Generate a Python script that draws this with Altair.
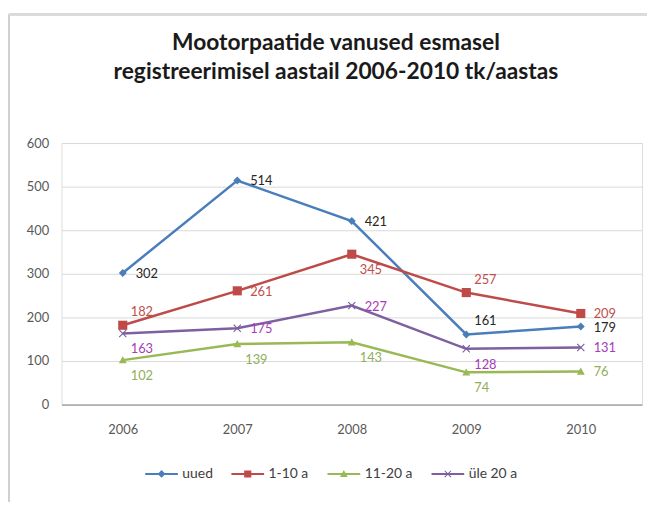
import altair as alt
import pandas as pd
import re

years = ["2006", "2007", "2008", "2009", "2010"]
series = ["uued", "1-10 a", "11-20 a", "üle 20 a"]
uued = [302, 514, 421, 161, 179]
a1_10 = [182, 261, 345, 257, 209]
a11_20 = [102, 139, 143, 74, 76]
ule20 = [163, 175, 227, 128, 131]
# label placement: r = right, a = above-right, b = below-right
place_uued = ["r", "r", "r", "a", "r"]
place_1_10 = ["a", "r", "b", "a", "r"]
place_11_20 = ["b", "b", "b", "b", "r"]
place_ule20 = ["b", "r", "r", "b", "r"]

line_colors = ["#4A7EBB", "#BE4B48", "#98B954", "#7D60A0"]
label_colors = ["#262626", "#C0504D", "#8FAF5A", "#A83CB8"]

FONT = "Lato"

values = [uued, a1_10, a11_20, ule20]
places = [place_uued, place_1_10, place_11_20, place_ule20]
rows = []
for s, vals, pl in zip(series, values, places):
    for y, v, p in zip(years, vals, pl):
        rows.append({"year": y, "series": s, "value": v, "place": p,
                     "series_pt": s, "series_lbl": s, "lg": s})
df = pd.DataFrame(rows)

diamond = "M0,-1L1,0L0,1L-1,0Z"
square = "M-1,-1L1,-1L1,1L-1,1Z"
triangle = "M0,-1L1,0.8L-1,0.8Z"
xcross = ("M-1,-0.8L-0.8,-1L0,-0.2L0.8,-1L1,-0.8L0.2,0L1,0.8L0.8,1"
          "L0,0.2L-0.8,1L-1,0.8L-0.2,0Z")
marker_paths = [diamond, "M-1.15,-1.15L1.15,-1.15L1.15,1.15L-1.15,1.15Z", triangle, xcross]

bar = "M-5.5,-0.35L5.5,-0.35L5.5,0.35L-5.5,0.35Z"
def lg_path(m, k):
    nums = re.sub(r"(-?\d+\.?\d*)", lambda mm: str(round(float(mm.group(1)) * k, 3)), m)
    return bar + nums
legend_paths = [lg_path(diamond, 1.3), lg_path(square, 1.2),
                lg_path(triangle, 1.3), lg_path(xcross, 1.2)]

x_enc = alt.X("year:O", scale=alt.Scale(type="point", padding=0.535),
              axis=alt.Axis(title=None, labelAngle=0, ticks=False, grid=False,
                            domainColor="#8C8C8C", domainWidth=1,
                            labelPadding=19, labelColor="#595959",
                            labelFontSize=13, labelFont=FONT))
y_enc = alt.Y("value:Q", scale=alt.Scale(domain=[0, 600]),
              axis=alt.Axis(title=None, values=[0, 100, 200, 300, 400, 500, 600],
                            ticks=False, domain=False, gridColor="#D9D9D9",
                            labelPadding=13, labelColor="#595959",
                            labelFontSize=13, labelFont=FONT))

base = alt.Chart(df)
color_scale = alt.Scale(domain=series, range=line_colors)

frame = base.mark_rule(color="#D0D0D0", strokeWidth=2).encode(
    x=alt.value(-53), y=alt.value(-130), y2=alt.value(400))
frame_top = base.mark_rule(color="#DADADA", strokeWidth=2).encode(
    x=alt.value(-53), x2=alt.value(600), y=alt.value(-130))

lines = base.mark_line(strokeWidth=2.5).encode(
    x=x_enc, y=y_enc,
    color=alt.Color("series:N", scale=color_scale, legend=None),
)
points = base.mark_point(filled=True, opacity=1, size=64).encode(
    x="year:O", y="value:Q",
    color=alt.Color("series:N", scale=color_scale, legend=None),
    shape=alt.Shape("series_pt:N", scale=alt.Scale(domain=series, range=marker_paths),
                    legend=None),
)

lbl_fill = alt.Fill("series_lbl:N", scale=alt.Scale(domain=series, range=label_colors),
                    legend=None)

def labels(code, dx, dy):
    return base.transform_filter(alt.datum.place == code).mark_text(
        align="left", baseline="middle", dx=dx, dy=dy, fontSize=13, font=FONT
    ).encode(x="year:O", y="value:Q", text="value:Q", fill=lbl_fill)

lab_r = labels("r", 13, 1)
lab_a = labels("a", 8, -13)
lab_b = labels("b", 8, 16)

leg = dict(title=None, orient="none", direction="horizontal",
           legendX=94, legendY=327, symbolSize=36, symbolStrokeWidth=0,
           labelOffset=14, columnPadding=18, labelFontSize=14,
           labelFont=FONT, labelColor="#404040")
legend_layer = base.transform_filter("false").mark_point(filled=True, opacity=1).encode(
    x="year:O", y="value:Q",
    color=alt.Color("lg:N", scale=alt.Scale(domain=series, range=line_colors),
                    legend=alt.Legend(**leg)),
    shape=alt.Shape("lg:N", scale=alt.Scale(domain=series, range=legend_paths),
                    legend=alt.Legend(**leg)),
)

chart = alt.layer(frame, frame_top, lines, points, lab_r, lab_a, lab_b, legend_layer).resolve_scale(
    color="independent", shape="independent", fill="independent"
).properties(
    width=586, height=264,
    autosize=alt.AutoSizeParams(type="none"),
    padding={"left": 54, "top": 134, "right": 5, "bottom": 96},
    title=alt.TitleParams(
        text=["Mootorpaatide  vanused esmasel",
              "registreerimisel  aastail 2006-2010 tk/aastas"],
        font=FONT, fontSize=23, fontWeight="bold", color="#1A1A1A",
        anchor="middle", frame="group", offset=-71, dx=-16, lineHeight=29,
    ),
).configure_view(stroke=None).configure(background="white")

chart.save("out.html", embed_options={"renderer": "svg", "actions": False})
